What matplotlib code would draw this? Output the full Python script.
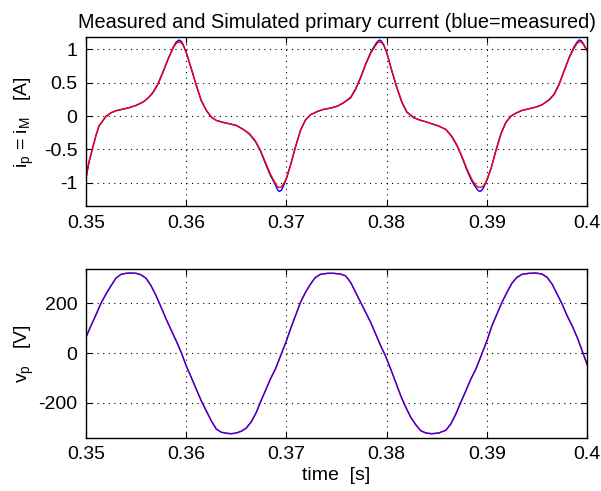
import matplotlib
matplotlib.use("Agg")
import matplotlib.pyplot as plt

plt.rcParams['font.family'] = ['Liberation Sans', 'DejaVu Sans']
plt.rcParams['mathtext.default'] = 'regular'
plt.rcParams['axes.unicode_minus'] = False

# primary current: time [s], measured (blue), simulated (red)
t_i = [0.3500, 0.3503, 0.3507, 0.3510, 0.3513, 0.3517, 0.3520, 0.3525, 0.3530, 0.3537,
       0.3543, 0.3550, 0.3557, 0.3562, 0.3567, 0.3572, 0.3577, 0.3582, 0.3587, 0.3590,
       0.3593, 0.3595, 0.3597, 0.3600, 0.3605, 0.3610, 0.3615, 0.3620, 0.3625, 0.3630, 0.3637,
       0.3643, 0.3650, 0.3657, 0.3663, 0.3669, 0.3674, 0.3679, 0.3684, 0.3689, 0.3691, 0.3693,
       0.3695, 0.3697, 0.3700, 0.3704, 0.3709, 0.3714, 0.3719, 0.3724, 0.3731, 0.3737, 0.3744,
       0.3751, 0.3757, 0.3764, 0.3769, 0.3774, 0.3779, 0.3784, 0.3789, 0.3791, 0.3793, 0.3795, 0.3797,
       0.3800, 0.3805, 0.3810, 0.3815, 0.3820, 0.3827, 0.3833, 0.3839, 0.3845, 0.3852,
       0.3859, 0.3865, 0.3870, 0.3875, 0.3880, 0.3885, 0.3889, 0.3891, 0.3893, 0.3895, 0.3897, 0.3900,
       0.3904, 0.3909, 0.3914, 0.3919, 0.3924, 0.3929, 0.3935, 0.3942, 0.3949, 0.3955,
       0.3962, 0.3967, 0.3972, 0.3977, 0.3982, 0.3987, 0.3990, 0.3992, 0.3994, 0.3996, 0.4000]
i_meas = [-0.935, -0.69, -0.46, -0.29, -0.15, -0.065, -0.005, 0.05, 0.08, 0.105,
          0.125, 0.16, 0.21, 0.27, 0.36, 0.49, 0.67, 0.86, 1.03, 1.11,
          1.14, 1.12, 1.07, 0.955, 0.71, 0.46, 0.23, 0.085, -0.015, -0.065, -0.095,
          -0.115, -0.14, -0.20, -0.27, -0.38, -0.52, -0.71, -0.89, -1.03, -1.10, -1.13,
          -1.11, -1.05, -0.935, -0.74, -0.46, -0.21, -0.055, 0.02, 0.07, 0.10, 0.12,
          0.15, 0.20, 0.28, 0.41, 0.58, 0.78, 0.955, 1.08, 1.12, 1.14, 1.12, 1.07,
          0.955, 0.68, 0.43, 0.21, 0.06, -0.025, -0.06, -0.085, -0.115, -0.15,
          -0.20, -0.31, -0.44, -0.61, -0.81, -0.975, -1.07, -1.11, -1.13, -1.11, -1.06, -0.96,
          -0.79, -0.51, -0.26, -0.09, 0.00, 0.045, 0.085, 0.11, 0.135, 0.17,
          0.245, 0.33, 0.48, 0.68, 0.88, 1.04, 1.11, 1.14, 1.13, 1.09, 0.98]
i_sim = [-0.935, -0.69, -0.46, -0.29, -0.15, -0.065, -0.005, 0.05, 0.08, 0.105,
         0.125, 0.16, 0.21, 0.27, 0.35, 0.48, 0.66, 0.85, 1.02, 1.09,
         1.11, 1.10, 1.06, 0.955, 0.72, 0.47, 0.24, 0.09, -0.01, -0.065, -0.095,
         -0.115, -0.14, -0.20, -0.26, -0.37, -0.51, -0.69, -0.87, -1.01, -1.06, -1.07,
         -1.06, -1.02, -0.93, -0.74, -0.47, -0.22, -0.06, 0.02, 0.07, 0.10, 0.12,
         0.15, 0.20, 0.27, 0.40, 0.57, 0.77, 0.94, 1.06, 1.10, 1.11, 1.10, 1.06,
         0.955, 0.69, 0.44, 0.22, 0.065, -0.02, -0.06, -0.085, -0.115, -0.15,
         -0.20, -0.30, -0.43, -0.60, -0.79, -0.95, -1.04, -1.06, -1.07, -1.06, -1.04, -0.95,
         -0.79, -0.52, -0.27, -0.095, 0.00, 0.045, 0.085, 0.11, 0.135, 0.17,
         0.24, 0.32, 0.47, 0.67, 0.87, 1.02, 1.09, 1.11, 1.11, 1.08, 0.97]

# primary voltage: time [s], value [V]
t_v = [0.3500, 0.3505, 0.3510, 0.3515, 0.3520, 0.3525, 0.3530, 0.3535, 0.3540, 0.3545,
       0.3550, 0.3555, 0.3560, 0.3565, 0.3570, 0.3575, 0.3580, 0.3585, 0.3590, 0.3595,
       0.3600, 0.3605, 0.3610, 0.3615, 0.3620, 0.3625, 0.3630, 0.3635, 0.3640, 0.3645,
       0.3650, 0.3655, 0.3660, 0.3665, 0.3670, 0.3674, 0.3679, 0.3684, 0.3689, 0.3694,
       0.3700, 0.3704, 0.3709, 0.3714, 0.3719, 0.3724, 0.3729, 0.3734, 0.3741, 0.3747,
       0.3754, 0.3759, 0.3764, 0.3769, 0.3774, 0.3779, 0.3784, 0.3789, 0.3794, 0.3799,
       0.3804, 0.3809, 0.3814, 0.3819, 0.3824, 0.3829, 0.3834, 0.3839, 0.3845, 0.3852,
       0.3859, 0.3864, 0.3869, 0.3874, 0.3879, 0.3884, 0.3889, 0.3894, 0.3900, 0.3905,
       0.3910, 0.3915, 0.3920, 0.3925, 0.3930, 0.3935, 0.3942, 0.3949, 0.3955, 0.3960,
       0.3965, 0.3970, 0.3975, 0.3980, 0.3985, 0.3990, 0.3995, 0.4000]
v_meas = [63, 109, 153, 199, 236, 269, 300, 315, 319, 320,
          319, 313, 299, 269, 229, 183, 136, 92, 49, 3,
          -51, -97, -144, -191, -231, -271, -304, -317, -321, -323,
          -320, -313, -300, -275, -237, -197, -151, -104, -64, -13,
          49, 96, 149, 203, 243, 276, 303, 315, 319, 319,
          316, 309, 283, 243, 203, 163, 123, 76, 29, -13,
          -64, -117, -171, -217, -257, -287, -311, -320, -323, -320,
          -309, -284, -244, -197, -151, -104, -64, -13, 49, 109,
          156, 203, 243, 280, 303, 315, 319, 320, 316, 303,
          276, 236, 196, 149, 109, 63, 9, -47]

title = "Measured and Simulated primary current (blue=measured)"
x_ticks = [0.35, 0.36, 0.37, 0.38, 0.39, 0.40]
x_ticklabels = ["0.35", "0.36", "0.37", "0.38", "0.39", "0.4"]
i_ticks = [-1, -0.5, 0, 0.5, 1]
i_ticklabels = ["-1", "-0.5", "0", "0.5", "1"]
v_ticks = [-200, 0, 200]
v_ticklabels = ["-200", "0", "200"]

fs = 14
fig = plt.figure(figsize=(6.01, 4.91), dpi=100)
ax1 = fig.add_axes([0.143, 0.580, 0.834, 0.344])
ax2 = fig.add_axes([0.143, 0.108, 0.834, 0.344])

ax1.plot(t_i, i_meas, color='#0000ff', lw=1.0)
ax1.plot(t_i, i_sim, color='#ff0000', lw=1.0)
ax2.plot(t_v, v_meas, color='#ff0000', lw=1.0)
ax2.plot(t_v, v_meas, color='#2000ff', lw=1.0, alpha=0.9)

for ax in (ax1, ax2):
    ax.set_xlim(0.35, 0.40)
    ax.set_xticks(x_ticks)
    ax.set_xticklabels(x_ticklabels)
    ax.grid(True, color='black', linestyle=(0, (1, 4)), linewidth=0.8)
    ax.tick_params(direction='in', top=True, right=True, labelsize=fs, length=4, pad=6)
    for s in ax.spines.values():
        s.set_linewidth(1.0)

ax1.set_ylim(-1.35, 1.18)
ax1.set_yticks(i_ticks)
ax1.set_yticklabels(i_ticklabels)
ax1.set_ylabel(r"i$_{p}$ = i$_{M}$   [A]", fontsize=fs, labelpad=6)
ax1.set_title(title, fontsize=14.3, pad=7)

ax2.set_ylim(-340, 336)
ax2.set_yticks(v_ticks)
ax2.set_yticklabels(v_ticklabels)
ax2.set_ylabel(r"v$_{p}$   [V]", fontsize=fs, labelpad=2)
ax2.set_xlabel("time  [s]", fontsize=fs, labelpad=3)

fig.savefig("out.png", dpi=100)
